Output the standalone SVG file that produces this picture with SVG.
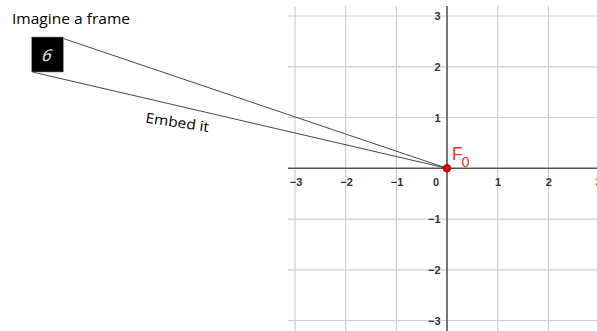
<svg xmlns="http://www.w3.org/2000/svg" width="597" height="331" viewBox="0 0 597 331">
<style>
.grid{stroke:#cfcfcf;stroke-width:1.2;fill:none}
.axis{stroke:#555;stroke-width:1.6;fill:none}
.tick{font-family:"Liberation Sans",Arial,sans-serif;font-size:11px;font-weight:bold;fill:#333}
.lbl{font-family:"Open Sans","Liberation Sans",sans-serif;font-size:14px;fill:#000}
.conn{stroke:#333;stroke-width:0.9;fill:none}
</style>
<rect width="597" height="331" fill="#fff"/>
<g id="grid">
<path class="grid" d="M295 6V331M345.6 6V331M396.3 6V331M497.7 6V331M548.4 6V331M288 16H597M288 66.8H597M288 117.5H597M288 219.1H597M288 269.8H597M288 320.5H597"/>
</g>
<g id="axes">
<path class="axis" d="M288 168.3H597" stroke-width="2" stroke="#666"/>
<path class="axis" d="M447 6V331" stroke="#333" stroke-width="1.4"/>
<text class="tick" x="296" y="185.5" text-anchor="middle">−3</text>
<text class="tick" x="346.5" y="185.5" text-anchor="middle">−2</text>
<text class="tick" x="397" y="185.5" text-anchor="middle">−1</text>
<text class="tick" x="436" y="185.5" text-anchor="middle">0</text>
<text class="tick" x="498" y="185.5" text-anchor="middle">1</text>
<text class="tick" x="548.7" y="185.5" text-anchor="middle">2</text>
<text class="tick" x="598.5" y="185.5" text-anchor="middle">3</text>
<text class="tick" x="440.5" y="20" text-anchor="end">3</text>
<text class="tick" x="440.5" y="70.8" text-anchor="end">2</text>
<text class="tick" x="440.5" y="121.5" text-anchor="end">1</text>
<text class="tick" x="440.5" y="223.1" text-anchor="end">−1</text>
<text class="tick" x="440.5" y="273.8" text-anchor="end">−2</text>
<text class="tick" x="440.5" y="324.5" text-anchor="end">−3</text>
</g>
<g id="title">
<text class="lbl" x="12" y="23.5" font-size="15" textLength="118" lengthAdjust="spacingAndGlyphs">Imagine a frame</text>
</g>
<g id="connectors">
<line class="conn" x1="63.3" y1="38.5" x2="447" y2="168.3"/>
<line class="conn" x1="32.5" y1="72" x2="447" y2="168.3"/>
</g>
<g id="frame">
<rect x="31.7" y="37" width="31.6" height="35" fill="#000" stroke="#888" stroke-width="0.6"/>
<text x="46" y="61" text-anchor="middle" font-family="'DejaVu Sans',sans-serif" font-size="16" fill="#d8d8d8" transform="skewX(-20) translate(21.5 0)">6</text>
</g>
<g id="embed">
<text class="lbl" x="145" y="122.5" transform="rotate(8.5 145 122.5)" textLength="64" lengthAdjust="spacingAndGlyphs">Embed it</text>
</g>
<g id="F0">
<circle cx="447" cy="168.3" r="3.8" fill="#e00" stroke="#700" stroke-width="0.8"/>
<text x="452" y="160" font-family="'Liberation Sans',Arial,sans-serif" font-size="17.5" fill="#ff2a2a">F</text>
<text x="461.5" y="167.3" font-family="'Liberation Sans',Arial,sans-serif" font-size="14.5" fill="#ff2a2a">0</text>
</g>
</svg>
